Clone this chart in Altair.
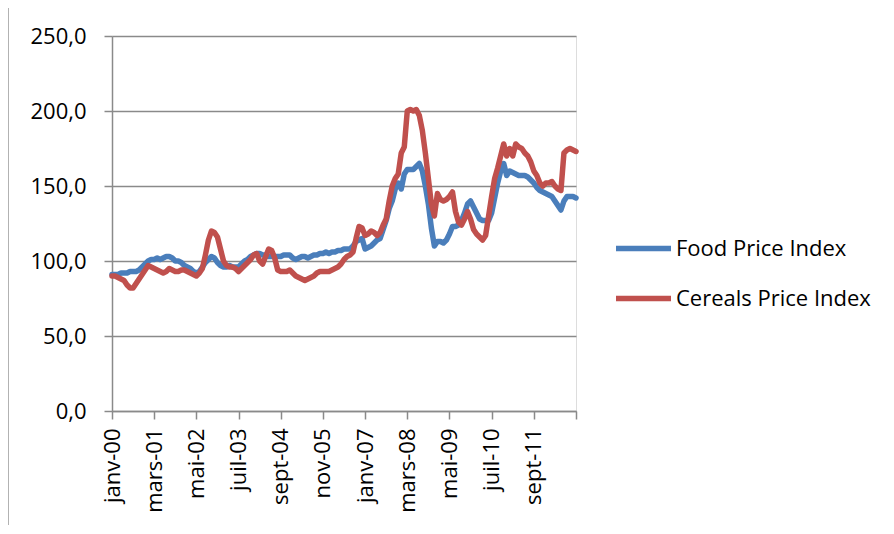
import altair as alt
import pandas as pd

# Monthly index values, Jan 2000 .. Nov 2012 (155 months)
food = [
    91, 91, 91, 92, 92, 92, 93, 93, 93, 94, 96, 98,
    100, 101, 101, 102, 101, 102, 103, 103, 102, 100, 100, 99,
    97, 96, 95, 93, 92, 93, 96, 99, 101, 103, 102, 99,
    97, 96, 96, 97, 96, 96, 96, 98, 100, 101, 103, 104,
    105, 105, 104, 104, 103, 103, 103, 103, 103, 104, 104, 104,
    102, 101, 102, 103, 103, 102, 103, 104, 104, 105, 105, 106,
    105, 106, 106, 107, 107, 108, 108, 108, 110, 113, 114, 115,
    108, 109, 110, 112, 114, 115, 121, 127, 135, 140, 148, 152,
    148, 158, 161, 161, 161, 163, 165, 160, 150, 138, 122, 110,
    113, 113, 112, 114, 118, 123, 123, 124, 127, 132, 138, 140,
    136, 132, 128, 127, 127, 127, 132, 142, 152, 160, 165, 157,
    160, 159, 158, 157, 157, 157, 156, 154, 152, 149, 147, 146,
    145, 144, 143, 140, 137, 134, 140, 143, 143, 143, 142,
]
cereals = [
    90, 90, 89, 88, 87, 84, 82, 82, 85, 88, 91, 94,
    97, 96, 95, 94, 93, 92, 93, 95, 94, 93, 93, 94,
    94, 93, 92, 91, 90, 92, 95, 104, 114, 120, 119, 116,
    108, 100, 97, 96, 96, 95, 93, 95, 97, 99, 101, 104,
    105, 100, 98, 103, 108, 107, 102, 94, 93, 93, 93, 94,
    92, 90, 89, 88, 87, 88, 89, 90, 92, 93, 93, 93,
    93, 94, 95, 96, 98, 101, 103, 104, 106, 115, 123, 122,
    117, 118, 120, 119, 117, 119, 124, 128, 140, 150, 155, 158,
    172, 176, 200, 201, 200, 201, 197, 187, 172, 155, 138, 130,
    145, 141, 140, 141, 143, 146, 133, 126, 124, 128, 133, 128,
    121, 118, 116, 114, 117, 130, 143, 155, 162, 170, 178, 170,
    175, 170, 178, 176, 175, 172, 170, 166, 160, 157, 152, 150,
    152, 152, 153, 150, 148, 147, 172, 174, 175, 174, 173,
]
series_names = ["Food Price Index", "Cereals Price Index"]
series_colors = ["#4a7ebb", "#c0504d"]
tick_months = [0, 14, 28, 42, 56, 70, 84, 98, 112, 126, 140, 154]
tick_labels = ["janv-00", "mars-01", "mai-02", "juil-03", "sept-04", "nov-05",
               "janv-07", "mars-08", "mai-09", "juil-10", "sept-11", ""]

rows = []
for i, v in enumerate(food):
    rows.append({"m": i, "v": v, "s": series_names[0]})
for i, v in enumerate(cereals):
    rows.append({"m": i, "v": v, "s": series_names[1]})
df = pd.DataFrame(rows)

FONT = "Open Sans"
GRAY = "#8a8a8a"
FS = 22
label_arr = "[" + ",".join("'" + t + "'" for t in tick_labels) + "]"

W, H = 464, 375

lines = alt.Chart(df).mark_line(strokeWidth=5.5, strokeCap="round", strokeJoin="round").encode(
    x=alt.X("m:Q", scale=alt.Scale(domain=[0, 154], nice=False, zero=False),
            axis=alt.Axis(values=tick_months, labelExpr=label_arr + "[round(datum.value/14)]",
                          labelAngle=270, labelAlign="right", labelBaseline="middle",
                          labelPadding=9, tickSize=8, tickColor=GRAY, domainColor=GRAY,
                          domainWidth=1.5, tickWidth=1.5, grid=False, title=None,
                          labelFont=FONT, labelFontSize=FS, labelColor="black",
                          labelOverlap=False, labelFlush=False)),
    y=alt.Y("v:Q", scale=alt.Scale(domain=[0, 250], nice=False),
            axis=alt.Axis(values=[0, 50, 100, 150, 200, 250],
                          labelExpr="replace(format(datum.value, '.1f'), '.', ',')",
                          tickSize=8, tickColor=GRAY, domainColor=GRAY, domainWidth=1.5,
                          tickWidth=1.5, grid=True, gridColor=GRAY, gridWidth=1.5,
                          labelPadding=18, title=None, labelFont=FONT, labelFontSize=FS,
                          labelColor="black")),
    color=alt.Color("s:N", scale=alt.Scale(domain=series_names, range=series_colors),
                    legend=alt.Legend(orient="none", legendX=501, legendY=182, title=None,
                                      symbolType="stroke", symbolSize=3025,
                                      symbolStrokeWidth=5.5, labelFont=FONT, labelFontSize=FS,
                                      labelColor="black", labelOffset=2, rowPadding=8,
                                      labelLimit=0)),
    order="m:Q",
)

border = alt.Chart(pd.DataFrame({"a": [0]})).mark_rule(color="#999999", strokeWidth=1.5).encode(
    x=alt.value(-104), y=alt.value(-28), y2=alt.value(489)
)

chart = alt.layer(lines, border).properties(
    width=W, height=H,
    autosize=alt.AutoSizeParams(type="none"),
    padding={"left": 104, "top": 28, "right": 310, "bottom": 115},
).configure_view(stroke=None).configure(background="white")

chart.save("out.html", embed_options={"renderer": "svg", "actions": False})
